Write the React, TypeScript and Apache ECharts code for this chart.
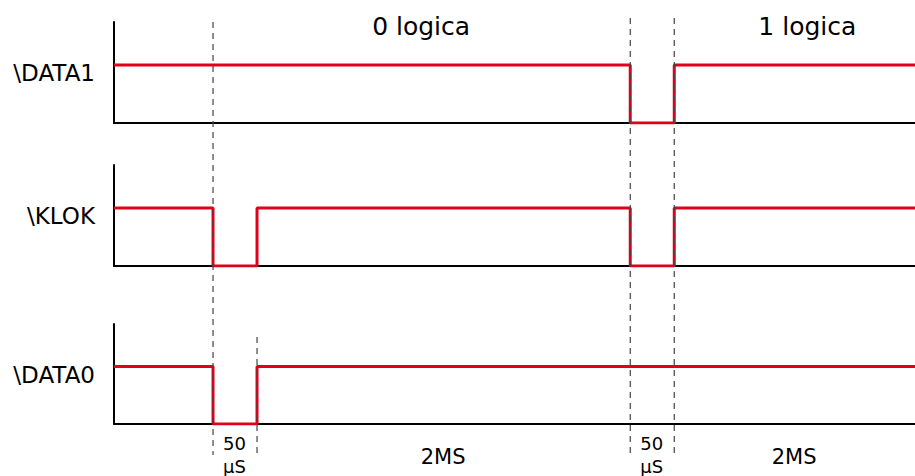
import React, { useEffect, useRef } from "react";
import * as echarts from "echarts";

// Time in units of 50 µs
const T_END = 18.2;
const EDGES = [2.25, 3.25, 11.73, 12.73];
const SIGNAL_NAMES = ["\\DATA1", "\\KLOK", "\\DATA0"];
// level of each signal in each interval between edges
const DATA1_LEVELS = [1, 1, 1, 0, 1];
const KLOK_LEVELS = [1, 0, 1, 0, 1];
const DATA0_LEVELS = [1, 0, 1, 1, 1];
const PHASE_LABELS = ["0 logica", "1 logica"];
const DURATION_LABELS = ["50\nµS", "2MS", "50\nµS", "2MS"];

const FONT = "DejaVu Sans";
const RED = "#e0001b";

const GRIDS = [
  { top: 22, height: 101 },
  { top: 165, height: 101 },
  { top: 324, height: 100 },
];
const GUIDE_TOPS = [22, 337, 18, 18];
const GUIDE_BOTTOM = 455;

function buildWave(levels: number[]) {
  const bounds = [0, ...EDGES, T_END];
  const pts: number[][] = [];
  levels.forEach((lv, i) => {
    pts.push([bounds[i], lv]);
    pts.push([bounds[i + 1], lv]);
  });
  return pts;
}

export default function App() {
  const ref = useRef<HTMLDivElement>(null);
  useEffect(() => {
    const chart = echarts.init(ref.current!, null, { renderer: "svg" });
    const waves = [DATA1_LEVELS, KLOK_LEVELS, DATA0_LEVELS];
    const grids: any[] = GRIDS.map((g) => ({ left: 114, right: 0, top: g.top, height: g.height }));
    grids.push({ left: 114, right: 0, top: 0, height: 476 });
    const xAxes: any[] = grids.map((_, i) => ({
      type: "value",
      gridIndex: i,
      min: 0,
      max: T_END,
      show: i < 3,
      axisLine: { show: true, onZero: false, lineStyle: { color: "#000", width: 2 } },
      axisTick: { show: false },
      axisLabel: { show: false },
      splitLine: { show: false },
    }));
    const yAxes: any[] = grids.map((_, i) =>
      i < 3
        ? {
            type: "value",
            gridIndex: i,
            min: 0,
            max: 1.74,
            axisLine: { show: true, lineStyle: { color: "#000", width: 2 } },
            axisTick: { show: false },
            axisLabel: { show: false },
            splitLine: { show: false },
          }
        : { type: "value", gridIndex: i, min: 0, max: 476, inverse: true, show: false }
    );
    const series: any[] = waves.map((lv, i) => ({
      type: "line",
      xAxisIndex: i,
      yAxisIndex: i,
      data: buildWave(lv),
      showSymbol: false,
      lineStyle: { color: RED, width: 3 },
      z: 3,
    }));
    EDGES.forEach((t, i) => {
      series.push({
        type: "line",
        xAxisIndex: 3,
        yAxisIndex: 3,
        data: [
          [t, GUIDE_TOPS[i]],
          [t, GUIDE_BOTTOM],
        ],
        showSymbol: false,
        lineStyle: { color: "#444", width: 1.2, type: [6, 5] },
        z: 5,
      });
    });
    const bounds = [0, ...EDGES, T_END];
    const phaseData = [
      { value: [(EDGES[0] + EDGES[2]) / 2, 27], name: PHASE_LABELS[0] },
      { value: [(EDGES[3] + T_END) / 2 + 0.3, 27], name: PHASE_LABELS[1] },
    ];
    const shortData: any[] = [];
    const longData: any[] = [];
    DURATION_LABELS.forEach((s, i) => {
      const x = (bounds[i + 1] + bounds[i + 2]) / 2;
      if (s.includes("\n")) shortData.push({ value: [x, 455], name: s });
      else longData.push({ value: [x, 457], name: s });
    });
    const textSeries = (data: any[], size: number, lh?: number) => ({
      type: "scatter",
      xAxisIndex: 3,
      yAxisIndex: 3,
      symbolSize: 1,
      itemStyle: { opacity: 0 },
      data,
      z: 6,
      label: {
        show: true,
        position: [0, 0],
        align: "center",
        verticalAlign: "middle",
        formatter: (p: any) => p.name,
        fontFamily: FONT,
        fontSize: size,
        lineHeight: lh,
        color: "#000",
        textBorderWidth: 0,
        opacity: 1,
      },
    });
    series.push(textSeries(phaseData, 25));
    series.push(textSeries(shortData, 18, 23));
    series.push(textSeries(longData, 21));
    chart.setOption({
      animation: false,
      grid: grids,
      xAxis: xAxes,
      yAxis: yAxes,
      series,
      graphic: SIGNAL_NAMES.map((n, i) => ({
        type: "text",
        right: 915 - 95,
        top: GRIDS[i].top + 39,
        style: { text: n, font: `23px "${FONT}"`, fill: "#000", textAlign: "right" },
      })),
    });
    return () => chart.dispose();
  }, []);
  return (
    <div
      ref={ref}
      style={{ position: "fixed", left: 0, top: 0, width: 915, height: 476, background: "#fff" }}
    />
  );
}
